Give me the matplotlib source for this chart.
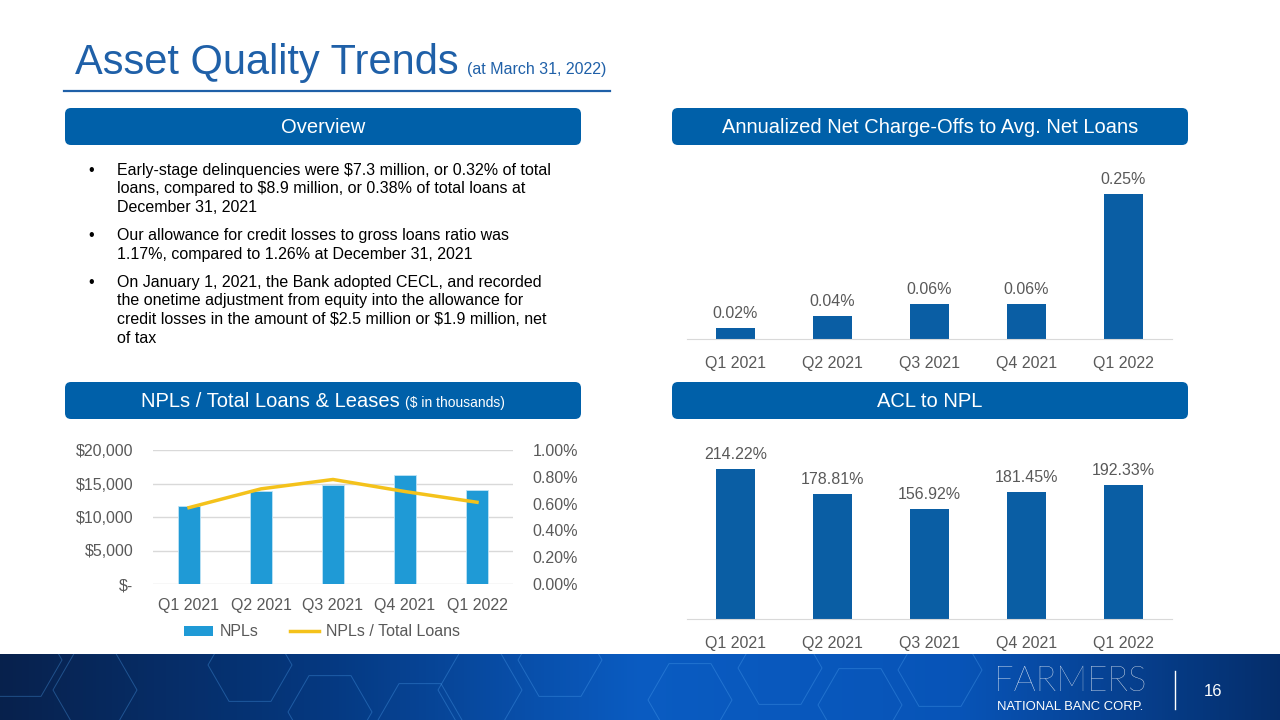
import numpy as np
import matplotlib
matplotlib.use("Agg")
import matplotlib.pyplot as plt
from matplotlib.patches import FancyBboxPatch, RegularPolygon, Rectangle
from matplotlib.lines import Line2D
from matplotlib.ticker import FuncFormatter

plt.rcParams['font.family'] = ['Liberation Sans', 'DejaVu Sans']

# data
quarters = ["Q1 2021", "Q2 2021", "Q3 2021", "Q4 2021", "Q1 2022"]
nco_pct = [0.02, 0.04, 0.06, 0.06, 0.25]
npl_amt = [11700, 13900, 14800, 16200, 14000]
npl_ratio = [0.57, 0.71, 0.78, 0.69, 0.61]
acl_npl = [214.22, 178.81, 156.92, 181.45, 192.33]

bullets = [
    ["Early-stage delinquencies were $7.3 million, or 0.32% of total",
     "loans, compared to $8.9 million, or 0.38% of total loans at",
     "December 31, 2021"],
    ["Our allowance for credit losses to gross loans ratio was",
     "1.17%, compared to 1.26% at December 31, 2021"],
    ["On January 1, 2021, the Bank adopted CECL, and recorded",
     "the onetime adjustment from equity into the allowance for",
     "credit losses in the amount of $2.5 million or $1.9 million, net",
     "of tax"],
]

BLUE = "#0060A9"
DARK_BAR = "#0A5EA4"
LIGHT_BAR = "#1F9AD6"
GOLD = "#F4C21B"
GRAY = "#595959"
GRID = "#D9D9D9"

W, H = 1280, 720
fig = plt.figure(figsize=(12.8, 7.2), dpi=100)
fig.patch.set_facecolor("white")


def rect(x0, y0, x1, y1):
    # pixel box (top-left origin) -> figure fraction
    return [x0 / W, 1 - y1 / H, (x1 - x0) / W, (y1 - y0) / H]


bg = fig.add_axes([0, 0, 1, 1], zorder=0)
bg.set_xlim(0, W)
bg.set_ylim(H, 0)
bg.axis("off")

# title
t = bg.text(75, 74, "Asset Quality Trends", fontsize=30, color="#1F60A8", va="baseline")
fig.canvas.draw()
bb = t.get_window_extent()
bg.text(bb.x1 + 8, 74, "(at March 31, 2022)", fontsize=11.5, color="#1F60A8", va="baseline")
bg.plot([64, 610], [91, 91], color="#1F60A8", lw=1.6)

# header boxes
def header(x0, y0, x1, y1, parts):
    box = FancyBboxPatch((x0, y0), x1 - x0, y1 - y0,
                         boxstyle="round,pad=0,rounding_size=6",
                         fc=BLUE, ec="none")
    bg.add_patch(box)
    cx, cy = (x0 + x1) / 2, (y0 + y1) / 2 + 1
    if len(parts) == 1:
        bg.text(cx, cy, parts[0], color="white", fontsize=14.5, ha="center", va="center")
    else:
        a = bg.text(0, cy, parts[0], color="white", fontsize=14.5, va="center")
        b = bg.text(0, cy + 2, parts[1], color="white", fontsize=10, va="center")
        fig.canvas.draw()
        wa = a.get_window_extent().width
        wb = b.get_window_extent().width
        start = cx - (wa + wb + 5) / 2
        a.set_x(start)
        b.set_x(start + wa + 5)

header(65, 108, 581, 145, ["Overview"])
header(672, 108, 1188, 145, ["Annualized Net Charge-Offs to Avg. Net Loans"])
header(65, 382, 581, 419, ["NPLs / Total Loans & Leases", "($ in thousands)"])
header(672, 382, 1188, 419, ["ACL to NPL"])

# bullets
y = 170
for para in bullets:
    bg.text(91, y, "\u2022", fontsize=11.5, color="black", ha="center", va="center")
    for line in para:
        bg.text(117, y, line, fontsize=11.5, color="black", va="center", parse_math=False)
        y += 18.8
    y += 9

# footer
grad_x = np.linspace(0, 1, 400)
cols = np.array([[0.03, 0.13, 0.30], [0.02, 0.22, 0.50], [0.04, 0.36, 0.76],
                 [0.03, 0.33, 0.72], [0.02, 0.18, 0.42]])
stops = np.linspace(0, 1, len(cols))
img = np.stack([np.interp(grad_x, stops, cols[:, i]) for i in range(3)], axis=-1)
img = np.repeat(img[None, :, :], 10, axis=0)
bg.imshow(img, extent=(0, W, 720, 654), aspect="auto", zorder=1)
clip = Rectangle((0, 654), W, 66, transform=bg.transData)
hexes = [(95, 690), (250, 665), (330, 712), (480, 690), (560, 660), (690, 700),
         (780, 668), (860, 705), (940, 670), (420, 720), (20, 660)]
for hx, hy in hexes:
    hp = RegularPolygon((hx, hy), 6, radius=42, orientation=np.pi / 6,
                        fill=False, ec="#4FA3F0", lw=0.7, alpha=0.35, zorder=2)
    bg.add_patch(hp)
    hp.set_clip_path(clip)
bg.set_xlim(0, W)
bg.set_ylim(H, 0)
bg.text(994, 691, "FARMERS", color="white", fontsize=25, fontweight="light",
        va="baseline", ha="left", zorder=3, family=["Lato", "Liberation Sans"])
bg.text(997, 710, "NATIONAL BANC CORP.", color="white", fontsize=9.4,
        va="baseline", ha="left", zorder=3)
bg.plot([1175, 1175], [671, 709], color="white", lw=1, zorder=3)
bg.text(1213, 691, "16", color="white", fontsize=12, ha="center", va="center", zorder=3)

x = np.arange(len(quarters))

# net charge-offs
ax1 = fig.add_axes(rect(687, 165, 1172, 339.3), zorder=2)
ax1.bar(x, nco_pct, width=0.4, color=DARK_BAR)
ax1.set_xlim(-0.5, 4.5)
ax1.set_ylim(0, 0.30)
for xi, v in zip(x, nco_pct):
    ax1.annotate(f"{v:.2f}%", (xi, v), xytext=(0, 5), textcoords="offset points",
                 ha="center", va="bottom", fontsize=11.5, color=GRAY)
for s in ["top", "left", "right"]:
    ax1.spines[s].set_visible(False)
ax1.spines["bottom"].set_color(GRID)
ax1.set_yticks([])
ax1.set_xticks(x, quarters)
ax1.tick_params(axis="x", length=0, pad=12, labelsize=11.5, labelcolor=GRAY)
ax1.patch.set_alpha(0)

# ACL to NPL
ax2 = fig.add_axes(rect(687, 440, 1172, 619.3), zorder=2)
ax2.bar(x, acl_npl, width=0.4, color=DARK_BAR)
ax2.set_xlim(-0.5, 4.5)
ax2.set_ylim(0, 256)
for xi, v in zip(x, acl_npl):
    ax2.annotate(f"{v:.2f}%", (xi, v), xytext=(0, 5), textcoords="offset points",
                 ha="center", va="bottom", fontsize=11.5, color=GRAY)
for s in ["top", "left", "right"]:
    ax2.spines[s].set_visible(False)
ax2.spines["bottom"].set_color(GRID)
ax2.set_yticks([])
ax2.set_xticks(x, quarters)
ax2.tick_params(axis="x", length=0, pad=12, labelsize=11.5, labelcolor=GRAY)
ax2.patch.set_alpha(0)

# NPLs
ax3 = fig.add_axes(rect(153, 450, 513, 584), zorder=2)
ax3.bar(x, npl_amt, width=0.31, color=LIGHT_BAR, ec="#BFE3F5", lw=0.6, zorder=2)
ax3.set_xlim(-0.5, 4.5)
ax3.set_ylim(0, 20000)
ax3.set_yticks([0, 5000, 10000, 15000, 20000])
ax3.yaxis.set_major_formatter(FuncFormatter(lambda v, p: "$-" if v == 0 else f"${v:,.0f}"))
ax3.grid(axis="y", color=GRID, lw=1, zorder=0)
for s in ax3.spines.values():
    s.set_visible(False)
ax3.set_xticks(x, quarters)
ax3.tick_params(axis="both", length=0, labelsize=11.5, labelcolor=GRAY)
ax3.tick_params(axis="y", pad=14)
ax3.tick_params(axis="x", pad=10)
ax3.patch.set_alpha(0)

ax4 = ax3.twinx()
ax4.plot(x, npl_ratio, color=GOLD, lw=2.5, zorder=3)
ax4.set_ylim(0, 1.0)
ax4.set_yticks([0, 0.2, 0.4, 0.6, 0.8, 1.0])
ax4.yaxis.set_major_formatter(FuncFormatter(lambda v, p: f"{v:.2f}%"))
for s in ax4.spines.values():
    s.set_visible(False)
ax4.tick_params(axis="y", length=0, labelsize=11.5, labelcolor=GRAY, pad=14)

handles = [plt.Rectangle((0, 0), 1, 1, fc=LIGHT_BAR, ec="none"),
           Line2D([0], [0], color=GOLD, lw=2.5)]
fig.legend(handles, ["NPLs", "NPLs / Total Loans"], loc="center",
           bbox_to_anchor=(322 / W, 1 - 632 / H), ncol=2, frameon=False,
           fontsize=11.5, labelcolor=GRAY, handlelength=1.8, handleheight=0.6,
           handletextpad=0.4, columnspacing=2.0)

fig.savefig("out.png", dpi=100)
